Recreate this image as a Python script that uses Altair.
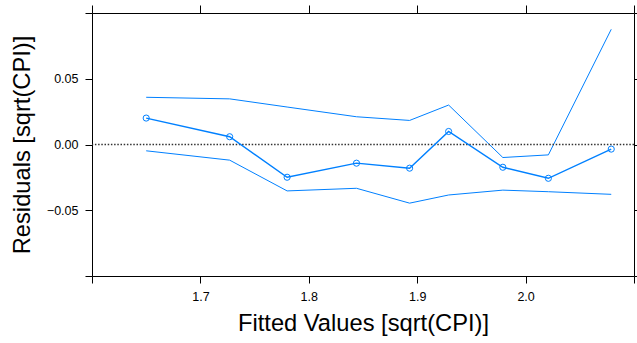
import altair as alt
import pandas as pd

# Fitted values and the residual summary at each of them
fitted = [1.650, 1.727, 1.780, 1.844, 1.893, 1.929, 1.979, 2.021, 2.079]
resid = [0.0201, 0.0059, -0.0249, -0.0142, -0.0180, 0.0099, -0.0173, -0.0257, -0.0035]
upper = [0.0359, 0.0347, 0.0285, 0.0211, 0.0183, 0.0300, -0.0099, -0.0079, 0.0876]
lower = [-0.0048, -0.0119, -0.0353, -0.0333, -0.0446, -0.0384, -0.0347, -0.0359, -0.0379]

x_ticks = [1.6, 1.7, 1.8, 1.9, 2.0, 2.1]
y_ticks = [-0.1, -0.05, 0.0, 0.05, 0.1]

df = pd.DataFrame({"fitted": fitted, "resid": resid, "upper": upper, "lower": lower})

BLUE = "#0080ff"
FONT = "Liberation Sans"
TITLE_SIZE = 23.7
LABEL_SIZE = 12.5

xscale = alt.Scale(domain=[1.6, 2.1], nice=False, zero=False)
yscale = alt.Scale(domain=[-0.1, 0.1], nice=False, zero=False)

x_label_expr = "abs(datum.value-1.6)<1e-6 || abs(datum.value-2.1)<1e-6 ? '' : format(datum.value, '.1f')"
y_label_expr = "abs(abs(datum.value)-0.1)<1e-6 ? '' : format(datum.value, '.2f')"

x_bottom = alt.Axis(values=x_ticks, orient="bottom", labelExpr=x_label_expr,
                    title="Fitted Values [sqrt(CPI)]", titleFontSize=TITLE_SIZE, titleFontWeight="normal",
                    titleFont=FONT, titleColor="black", titleX=271, titleY=54,
                    titleBaseline="alphabetic", titleAnchor="middle",
                    labelFont=FONT, labelFontSize=LABEL_SIZE, labelColor="black",
                    tickSize=7, tickColor="black", labelPadding=7,
                    domain=False, grid=False)
y_left = alt.Axis(values=y_ticks, orient="left", labelExpr=y_label_expr,
                  title="Residuals [sqrt(CPI)]", titleFontSize=TITLE_SIZE, titleFontWeight="normal",
                  titleFont=FONT, titleColor="black", titleAngle=-90, titleX=-63, titleY=131.5,
                  titleBaseline="alphabetic", titleAlign="center",
                  labelFont=FONT, labelFontSize=LABEL_SIZE, labelColor="black",
                  tickSize=7, tickColor="black", labelPadding=7,
                  domain=False, grid=False)
x_top = alt.Axis(values=x_ticks, orient="top", labels=False, title=None,
                 tickSize=8, tickColor="black", domain=False, grid=False)
y_right = alt.Axis(values=y_ticks, orient="right", labels=False, title=None,
                   tickSize=7, tickColor="black", domain=False, grid=False)

base = alt.Chart(df)

upper_line = base.mark_line(color=BLUE, strokeWidth=1).encode(
    x=alt.X("fitted:Q", scale=xscale, axis=x_top),
    y=alt.Y("upper:Q", scale=yscale, axis=y_right),
)
lower_line = base.mark_line(color=BLUE, strokeWidth=1).encode(
    x=alt.X("fitted:Q", scale=xscale, axis=None),
    y=alt.Y("lower:Q", scale=yscale, axis=None),
)
zero_rule = alt.Chart(pd.DataFrame({"z": [0.0]})).mark_rule(
    color="#333333", strokeWidth=1.3, strokeDash=[1.5, 1.7]
).encode(y=alt.Y("z:Q", scale=yscale, axis=None))
resid_line = base.mark_line(color=BLUE, strokeWidth=1.4).encode(
    x=alt.X("fitted:Q", scale=xscale, axis=None),
    y=alt.Y("resid:Q", scale=yscale, axis=None),
)
resid_pts = base.mark_point(color=BLUE, size=38, strokeWidth=1, filled=False, opacity=1).encode(
    x=alt.X("fitted:Q", scale=xscale, axis=x_bottom),
    y=alt.Y("resid:Q", scale=yscale, axis=y_left),
)

chart = alt.layer(upper_line, lower_line, zero_rule, resid_line, resid_pts).resolve_axis(
    x="independent", y="independent"
).properties(
    width=542, height=263,
    autosize=alt.AutoSizeParams(type="none"),
    padding={"left": 92, "top": 13, "right": 3, "bottom": 67},
    background="white",
).configure_view(stroke="black", strokeWidth=1)

chart.save("out.html", embed_options={"renderer": "svg", "actions": False})
